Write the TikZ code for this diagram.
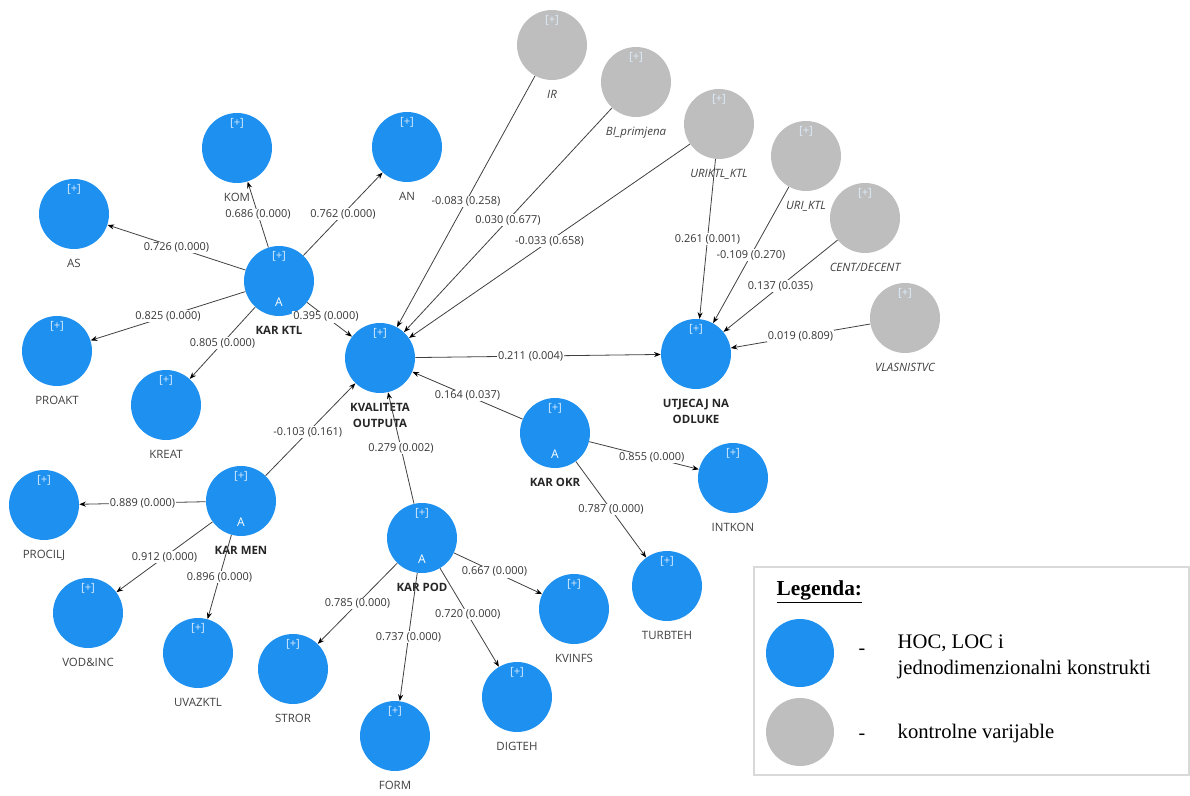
\documentclass[tikz,border=0pt]{standalone}
\usepackage{fontspec}
\setmainfont{Open Sans}
\newfontfamily\legfont{Liberation Serif}
\usetikzlibrary{arrows.meta}
\definecolor{konblue}{RGB}{30,144,240}
\definecolor{kongray}{RGB}{190,190,190}
\definecolor{txtgray}{RGB}{64,64,64}
\tikzset{
  blob/.style={circle,inner sep=0pt,minimum size=52.5pt,label={[plusmark]above:[+]}},
  plusmark/.style={yshift=-12pt,inner sep=0pt,text=white!85!konblue,font=\fontsize{8.5}{9}\selectfont},
  amark/.style={yshift=14pt,inner sep=0pt,text=white,font=\fontsize{9}{10}\selectfont},
  nlbl/.style={yshift=-7pt,inner sep=0pt,align=center,text=txtgray,font=\fontsize{8.6}{10}\selectfont},
  hlbl/.style={nlbl,text=black!85,font=\bfseries\fontsize{8.6}{12.5}\selectfont},
  lv/.style={blob,fill=konblue,label={[nlbl]below:#1}},
  tgt/.style={blob,fill=konblue,label={[hlbl]below:#1}},
  hoc/.style={tgt=#1,label={[amark]below:A}},
  ctl/.style={blob,fill=kongray,label={[nlbl,font=\itshape\fontsize{8.6}{10}\selectfont]below:#1}},
  lnk/.style={draw=txtgray,line width=0.6pt,-{Stealth[length=5pt,width=3.8pt,color=black]}},
  coef/.style={fill=white,inner sep=0.8pt,text=txtgray!85!black,font=\fontsize{8.2}{9}\selectfont},
}
\begin{document}
\begin{tikzpicture}[x=0.75pt,y=-0.75pt]
  \useasboundingbox (0,0) rectangle (1190,796);
  % constructs
  \node[lv=AS]     (as)    at (74,214)  {};
  \node[lv=KOM]    (kom)   at (237,148) {};
  \node[lv=AN]     (an)    at (407,147) {};
  \node[hoc={KAR KTL}] (ktl) at (279,281) {};
  \node[lv=PROAKT] (proakt) at (57,351) {};
  \node[lv=KREAT]  (kreat) at (166,405) {};
  \node[tgt={KVALITETA\\OUTPUTA}] (kval) at (380,358) {};
  \node[tgt={UTJECAJ NA\\ODLUKE}] (utj) at (696,354) {};
  \node[hoc={KAR OKR}] (okr) at (555,433) {};
  \node[lv=INTKON] (intkon) at (733,478) {};
  \node[lv=TURBTEH] (turbteh) at (667,586) {};
  \node[hoc={KAR MEN}] (men) at (241,501) {};
  \node[lv=PROCILJ] (procilj) at (44,505) {};
  \node[lv={VOD\&INC}] (vodinc) at (88,613) {};
  \node[lv=UVAZKTL] (uvazktl) at (198,653) {};
  \node[hoc={KAR POD}] (pod) at (422,538) {};
  \node[lv=STROR]  (stror)  at (293,669) {};
  \node[lv=FORM]   (form)   at (395,736) {};
  \node[lv=DIGTEH] (digteh) at (517,697) {};
  \node[lv=KVINFS] (kvinfs) at (574,609) {};
  % control variables
  \node[ctl=IR]              (ir)     at (552,45)  {};
  \node[ctl={BI\_primjena}]  (bi)     at (636,82)  {};
  \node[ctl={URIKTL\_KTL}]   (uriktl) at (719,124) {};
  \node[ctl={URI\_KTL}]      (uri)    at (806,156) {};
  \node[ctl={CENT/DECENT}]   (cent)   at (865,218) {};
  \node[ctl=VLASNISTVC]      (vlas)   at (905,318) {};
  % paths
  \draw[lnk] (ktl) -- node[coef] {0.726 (0.000)} (as);
  \draw[lnk] (ktl) -- node[coef] {0.686 (0.000)} (kom);
  \draw[lnk] (ktl) -- node[coef] {0.762 (0.000)} (an);
  \draw[lnk] (ktl) -- node[coef] {0.825 (0.000)} (proakt);
  \draw[lnk] (ktl) -- node[coef] {0.805 (0.000)} (kreat);
  \draw[lnk] (ktl) -- node[coef,pos=0.42] {0.395 (0.000)} (kval);
  \draw[lnk] (ir) -- node[coef] {-0.083 (0.258)} (kval);
  \draw[lnk] (bi) -- node[coef] {0.030 (0.677)} (kval);
  \draw[lnk] (uriktl) -- node[coef] {-0.033 (0.658)} (kval);
  \draw[lnk] (kval) -- node[coef,pos=0.47] {0.211 (0.004)} (utj);
  \draw[lnk] (uriktl) -- node[coef] {0.261 (0.001)} (utj);
  \draw[lnk] (uri) -- node[coef] {-0.109 (0.270)} (utj);
  \draw[lnk] (cent) -- node[coef] {0.137 (0.035)} (utj);
  \draw[lnk] (vlas) -- node[coef] {0.019 (0.809)} (utj);
  \draw[lnk] (okr) -- node[coef] {0.164 (0.037)} (kval);
  \draw[lnk] (okr) -- node[coef,pos=0.57] {0.855 (0.000)} (intkon);
  \draw[lnk] (okr) -- node[coef] {0.787 (0.000)} (turbteh);
  \draw[lnk] (men) -- node[coef,pos=0.47] {-0.103 (0.161)} (kval);
  \draw[lnk] (pod) -- node[coef] {0.279 (0.002)} (kval);
  \draw[lnk] (men) -- node[coef] {0.889 (0.000)} (procilj);
  \draw[lnk] (men) -- node[coef] {0.912 (0.000)} (vodinc);
  \draw[lnk] (men) -- node[coef] {0.896 (0.000)} (uvazktl);
  \draw[lnk] (pod) -- node[coef] {0.785 (0.000)} (stror);
  \draw[lnk] (pod) -- node[coef] {0.737 (0.000)} (form);
  \draw[lnk] (pod) -- node[coef,pos=0.47] {0.720 (0.000)} (digteh);
  \draw[lnk] (pod) -- node[coef,pos=0.46] {0.667 (0.000)} (kvinfs);
  % legend
  \draw[gray!30,line width=0.8pt] (754,567) rectangle (1189,775);
  \node[anchor=west,font=\legfont\bfseries\fontsize{16}{18}\selectfont] (legtitle) at (772,592) {\underline{Legenda:}};
  \node[circle,fill=konblue,minimum size=51pt,inner sep=0pt] (legblue) at (800,653) {};
  \node[circle,fill=kongray,minimum size=51pt,inner sep=0pt] (leggray) at (800,732) {};
  \node[font=\legfont\fontsize{15}{17}\selectfont] (dasha) at (862,652) {-};
  \node[font=\legfont\fontsize{15}{17}\selectfont] (dashb) at (862,737) {-};
  \node[anchor=west,align=left,font=\legfont\fontsize{15.5}{20}\selectfont] (legtxta) at (893,657) {HOC, LOC i\\jednodimenzionalni konstrukti};
  \node[anchor=west,font=\legfont\fontsize{15.5}{17}\selectfont] (legtxtb) at (893,734) {kontrolne varijable};
\end{tikzpicture}
\end{document}
